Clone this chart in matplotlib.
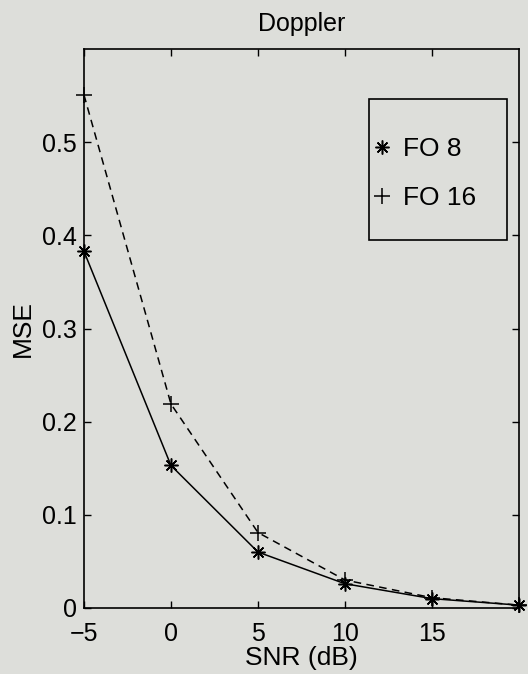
import matplotlib
matplotlib.use("Agg")
import matplotlib.pyplot as plt
from matplotlib.lines import Line2D
from matplotlib.patches import Rectangle

snr = [-5, 0, 5, 10, 15, 20]
fo8 = [0.383, 0.153, 0.060, 0.026, 0.010, 0.003]
fo16 = [0.551, 0.219, 0.081, 0.030, 0.011, 0.003]
series_labels = ["FO 8", "FO 16"]
xticks = [-5, 0, 5, 10, 15]
yticks = [0, 0.1, 0.2, 0.3, 0.4, 0.5]

plt.rcParams['font.family'] = ['Liberation Sans', 'DejaVu Sans']
bg = '#dddeda'
W, H = 528, 674
fig = plt.figure(figsize=(5.28, 6.74), dpi=100, facecolor=bg)
ax = fig.add_axes([0.159, 0.098, 0.824, 0.829], facecolor=bg)

ast = (8, 2, 0)
ax.plot(snr, fo8, color='black', lw=1.1, marker=ast, ms=10, mew=1.1, clip_on=False)
ax.plot(snr, fo16, color='black', lw=1.1, ls=(0, (5, 3.5)), marker='+', ms=11, mew=1.1, clip_on=False)

ax.set_xlim(-5, 20)
ax.set_ylim(0, 0.6)
ax.set_xticks(xticks)
ax.set_xticklabels(['\u22125', '0', '5', '10', '15'])
ax.set_yticks(yticks)
ax.set_yticklabels(['0', '0.1', '0.2', '0.3', '0.4', '0.5'])
ax.tick_params(direction='in', top=True, right=True, length=5, width=1, labelsize=18)
ax.tick_params(axis='x', pad=10)
ax.tick_params(axis='y', pad=5)
for s in ax.spines.values():
    s.set_linewidth(1.2)

ax.set_xlabel('SNR (dB)', fontsize=19, labelpad=0)
ax.set_ylabel('MSE', fontsize=19, labelpad=5)
ax.set_title('Doppler', fontsize=18, pad=13)

# legend box (MATLAB style: large frame, markers only)
box = Rectangle((369 / W, 1 - 240 / H), (507 - 369) / W, (240 - 99) / H,
                transform=fig.transFigure, facecolor=bg, edgecolor='black',
                linewidth=1.2, zorder=5)
fig.add_artist(box)

handles = [Line2D([], [], ls='none', color='black', marker=ast, ms=10, mew=1.1),
           Line2D([], [], ls='none', color='black', marker='+', ms=11, mew=1.1)]
leg = ax.legend(handles, series_labels, loc='upper left',
                bbox_to_anchor=(374 / W, 1 - 137 / H),
                bbox_transform=fig.transFigure,
                fontsize=19, frameon=False, borderpad=0, labelspacing=0.96,
                handlelength=0.6, handletextpad=0.5, borderaxespad=0)
leg.set_zorder(6)
fig.add_artist(leg)

fig.savefig('out.png', dpi=100, facecolor=bg)
